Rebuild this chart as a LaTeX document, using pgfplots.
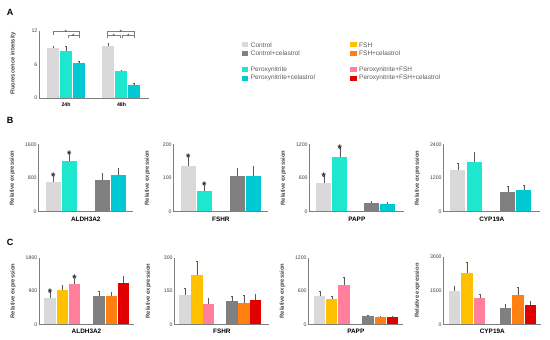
\documentclass[border=0pt]{standalone}
\usepackage{fontspec}
\setmainfont{Liberation Sans}
\usepackage{pgfplots}
\pgfplotsset{compat=1.18}
\definecolor{cCtl}{HTML}{D9D9D9}
\definecolor{cCtlC}{HTML}{808080}
\definecolor{cPer}{HTML}{1DE8CF}
\definecolor{cPerC}{HTML}{00C9D3}
\definecolor{cFSH}{HTML}{FFC000}
\definecolor{cFSHC}{HTML}{FF7F10}
\definecolor{cPF}{HTML}{FF7F9C}
\definecolor{cPFC}{HTML}{E00000}
\definecolor{axgray}{HTML}{7F7F7F}
\definecolor{txt}{HTML}{404040}
\pgfplotsset{
  panel/.style={
    scale only axis, anchor=south west,
    axis x line*=bottom, axis y line*=left,
    axis line style={-, draw=axgray, line width=0.7pt},
    ymin=0, xmin=0, clip=false,
    major tick length=0pt,
    xtick=\empty,
    /pgf/number format/assume math mode=true,
    /pgf/number format/1000 sep={},
    yticklabel style={font=\fontsize{5.2}{6}\selectfont, text=txt, inner sep=1.5pt},
    every axis y label/.style={at={(axis description cs:0,0.5)}, xshift=-26pt, rotate=90, anchor=center, font=\bfseries\fontsize{5.8}{6}\selectfont, text=txt},
    every axis x label/.style={at={(axis description cs:0.5,0)}, yshift=-8pt, anchor=center, font=\bfseries\fontsize{6.4}{7}\selectfont, text=black},
  },
  bstyle/.style={ybar, draw=none, fill=#1,
    error bars/y dir=plus, error bars/y explicit,
    error bars/error bar style={line width=0.4pt, draw=black!65},
    error bars/error mark options={rotate=90, mark size=0.8pt, line width=0.4pt, draw=black!65}},
  barA/.style={bstyle=#1, bar width=12pt},
  barB/.style={bstyle=#1, bar width=15pt},
  barC/.style={bstyle=#1, bar width=11.5pt},
}
\tikzset{star/.style={anchor=base, yshift=-4.6pt, inner sep=0pt, font=\bfseries\fontsize{11}{11}\selectfont, text=black!85},
  sstar/.style={anchor=base, yshift=-3pt, inner sep=0pt, font=\fontsize{6.5}{6.5}\selectfont, text=black!75},
  brk/.style={draw=axgray, line width=0.5pt}}
\begin{document}
\begin{tikzpicture}[x=1pt,y=1pt]
\path[use as bounding box] (0,0) rectangle (550,340);
% panel letters
\node[font=\bfseries\fontsize{9}{9}\selectfont] at (10,327.5) {A};
\node[font=\bfseries\fontsize{9}{9}\selectfont] at (10,220) {B};
\node[font=\bfseries\fontsize{9}{9}\selectfont] at (10,98) {C};
% ---------- A ----------
\begin{axis}[panel, at={(39pt,242pt)}, width=110pt, height=67pt, xmax=110, ymax=12, ytick={0,6,12},
  ylabel={Fluorescence intensity},
  xtick={27,82.5}, xticklabels={24h,48h},
  xticklabel style={font=\bfseries\fontsize{5.2}{6}\selectfont, text=black, yshift=-1.5pt},
  every axis y label/.append style={xshift=1pt}]
\addplot[barA=cCtl] coordinates {(14.5,9.0) +- (0,0.2)};
\addplot[barA=cPer] coordinates {(27,8.5) +- (0,0.7)};
\addplot[barA=cPerC] coordinates {(40,6.2) +- (0,0.4)};
\addplot[barA=cCtl] coordinates {(69.5,9.4) +- (0,0.5)};
\addplot[barA=cPer] coordinates {(82.5,4.85) +- (0,0.2)};
\addplot[barA=cPerC] coordinates {(95,2.35) +- (0,0.3)};
\draw[brk] (axis cs:14,11.3) -- (axis cs:14,11.87) -- (axis cs:40,11.87) -- (axis cs:40,11.3);
\draw[brk] (axis cs:29,10.7) -- (axis cs:29,11.28) -- (axis cs:40,11.28) -- (axis cs:40,10.7);
\draw[brk] (axis cs:68.7,11.3) -- (axis cs:68.7,11.87) -- (axis cs:95.3,11.87) -- (axis cs:95.3,11.3);
\draw[brk] (axis cs:68.7,10.7) -- (axis cs:68.7,11.28) -- (axis cs:81,11.28) -- (axis cs:81,10.7);
\draw[brk] (axis cs:83.7,10.7) -- (axis cs:83.7,11.28) -- (axis cs:95.3,11.28) -- (axis cs:95.3,10.7);
\node[sstar] at (axis cs:27,11.87) {*};
\node[sstar] at (axis cs:34.5,11.28) {*};
\node[sstar] at (axis cs:82,11.87) {*};
\node[sstar] at (axis cs:75,11.28) {*};
\node[sstar] at (axis cs:89.5,11.28) {*};
\end{axis}
% ---------- legend ----------
\begin{scope}[every node/.style={anchor=west, inner sep=0pt, font=\fontsize{6.5}{7}\selectfont, text=black!65}]
\fill[cCtl] (241.7,292.5) rectangle ++(6.7,5);   \node at (250.7,295) {Control};
\fill[cCtlC] (241.7,284.2) rectangle ++(6.7,5);  \node at (250.7,286.7) {Control+celastrol};
\fill[cPer] (241.7,267.5) rectangle ++(6.7,5);   \node at (250.7,270) {Peroxynitrite};
\fill[cPerC] (241.7,259.2) rectangle ++(6.7,5);  \node at (250.7,261.7) {Peroxynitrite+celastrol};
\fill[cFSH] (350,292.5) rectangle ++(6.7,5);     \node at (359,295) {FSH};
\fill[cFSHC] (350,284.2) rectangle ++(6.7,5);    \node at (359,286.7) {FSH+celastrol};
\fill[cPF] (350,267.5) rectangle ++(6.7,5);      \node at (359,270) {Peroxynitrite+FSH};
\fill[cPFC] (350,259.2) rectangle ++(6.7,5);     \node at (359,261.7) {Peroxynitrite+FSH+celastrol};
\end{scope}
% ---------- B ----------
\begin{axis}[panel, at={(38.3pt,128.5pt)}, width=95pt, height=67pt, xmax=95, ymax=1600, ytick={0,800,1600},
  ylabel={Relative expression}, xlabel={ALDH3A2}]
\addplot[barB=cCtl] coordinates {(15,703) +- (0,145)};
\addplot[barB=cPer] coordinates {(31,1212) +- (0,163)};
\addplot[barB=cCtlC] coordinates {(64,751) +- (0,156)};
\addplot[barB=cPerC] coordinates {(80,865) +- (0,163)};
\node[star] at (axis cs:15,848) {*};
\node[star] at (axis cs:31,1375) {*};
\end{axis}
\begin{axis}[panel, at={(173.3pt,128.5pt)}, width=95pt, height=67pt, xmax=95, ymax=200, ytick={0,100,200},
  ylabel={Relative expression}, xlabel={FSHR}]
\addplot[barB=cCtl] coordinates {(15,136) +- (0,27)};
\addplot[barB=cPer] coordinates {(31,60) +- (0,18)};
\addplot[barB=cCtlC] coordinates {(64,105) +- (0,23)};
\addplot[barB=cPerC] coordinates {(80,105) +- (0,30)};
\node[star] at (axis cs:15,163) {*};
\node[star] at (axis cs:31,78) {*};
\end{axis}
\begin{axis}[panel, at={(309.3pt,128.5pt)}, width=95pt, height=67pt, xmax=95, ymax=1200, ytick={0,600,1200},
  ylabel={Relative expression}, xlabel={PAPP}]
\addplot[barB=cCtl] coordinates {(14.5,519) +- (0,119)};
\addplot[barB=cPer] coordinates {(30.5,980) +- (0,160)};
\addplot[barB=cCtlC] coordinates {(62,147) +- (0,36)};
\addplot[barB=cPerC] coordinates {(78,136) +- (0,29)};
\node[star] at (axis cs:14.5,638) {*};
\node[star] at (axis cs:30.5,1140) {*};
\end{axis}
\begin{axis}[panel, at={(443.3pt,128.5pt)}, width=97pt, height=67pt, xmax=97, ymax=2400, ytick={0,1200,2400},
  ylabel={Relative expression}, xlabel={CYP19A}]
\addplot[barB=cCtl] coordinates {(14.5,1500) +- (0,236)};
\addplot[barB=cPer] coordinates {(31,1781) +- (0,327)};
\addplot[barB=cCtlC] coordinates {(64.5,703) +- (0,200)};
\addplot[barB=cPerC] coordinates {(80.5,787) +- (0,151)};
\end{axis}
% ---------- C ----------
\begin{axis}[panel, at={(39pt,15.7pt)}, width=95pt, height=66.6pt, xmax=95, ymax=1800, ytick={0,900,1800},
  ylabel={Relative expression}, xlabel={ALDH3A2}, every axis x label/.append style={yshift=1pt}]
\addplot[barC=cCtl] coordinates {(11,718) +- (0,162)};
\addplot[barC=cFSH] coordinates {(23.3,926) +- (0,134)};
\addplot[barC=cPF] coordinates {(35.6,1096) +- (0,145)};
\addplot[barC=cCtlC] coordinates {(60,772) +- (0,127)};
\addplot[barC=cFSHC] coordinates {(72.3,764) +- (0,100)};
\addplot[barC=cPFC] coordinates {(84.6,1123) +- (0,189)};
\node[star] at (axis cs:11,880) {*};
\node[star] at (axis cs:35.6,1241) {*};
\end{axis}
\begin{axis}[panel, at={(174.3pt,15.7pt)}, width=95pt, height=66.6pt, xmax=95, ymax=300, ytick={0,150,300},
  ylabel={Relative expression}, xlabel={FSHR}, every axis x label/.append style={yshift=1pt}]
\addplot[barC=cCtl] coordinates {(10.5,134) +- (0,28)};
\addplot[barC=cFSH] coordinates {(22.5,221) +- (0,61)};
\addplot[barC=cPF] coordinates {(34,92) +- (0,25)};
\addplot[barC=cCtlC] coordinates {(57.5,104) +- (0,22)};
\addplot[barC=cFSHC] coordinates {(69.5,97) +- (0,32)};
\addplot[barC=cPFC] coordinates {(81.2,110) +- (0,27)};
\end{axis}
\begin{axis}[panel, at={(308.3pt,15.7pt)}, width=95pt, height=66.6pt, xmax=95, ymax=1200, ytick={0,600,1200},
  ylabel={Relative expression}, xlabel={PAPP}, every axis x label/.append style={yshift=1pt}]
\addplot[barC=cCtl] coordinates {(11.4,507) +- (0,89)};
\addplot[barC=cFSH] coordinates {(23.4,459) +- (0,54)};
\addplot[barC=cPF] coordinates {(35.5,716) +- (0,126)};
\addplot[barC=cCtlC] coordinates {(59.9,143) +- (0,24)};
\addplot[barC=cFSHC] coordinates {(72,125) +- (0,18)};
\addplot[barC=cPFC] coordinates {(84,125) +- (0,18)};
\end{axis}
\begin{axis}[panel, at={(443.3pt,15.7pt)}, width=98pt, height=67.3pt, xmax=98, ymax=3000, ytick={0,1500,3000},
  ylabel={Relative expression}, xlabel={CYP19A}, every axis x label/.append style={yshift=1pt}]
\addplot[barC=cCtl] coordinates {(11.2,1485) +- (0,222)};
\addplot[barC=cFSH] coordinates {(23.5,2300) +- (0,490)};
\addplot[barC=cPF] coordinates {(36.4,1159) +- (0,191)};
\addplot[barC=cCtlC] coordinates {(62,713) +- (0,192)};
\addplot[barC=cFSHC] coordinates {(74.5,1293) +- (0,357)};
\addplot[barC=cPFC] coordinates {(87,874) +- (0,166)};
\end{axis}
\end{tikzpicture}
\end{document}
